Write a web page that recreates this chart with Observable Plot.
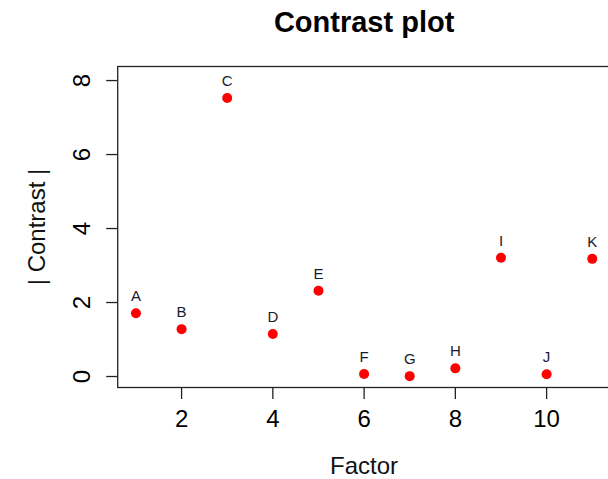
<!DOCTYPE html>
<html>
<head>
<meta charset="utf-8">
<script src="https://cdn.jsdelivr.net/npm/d3@7"></script>
<script src="https://cdn.jsdelivr.net/npm/@observablehq/plot@0.6"></script>
<style>
  html, body { margin: 0; padding: 0; background: #fff; overflow: hidden; }
</style>
</head>
<body>
<div id="chart"></div>
<script>
const factors = ["A", "B", "C", "D", "E", "F", "G", "H", "I", "J", "K"];
const factorIndex = [1, 2, 3, 4, 5, 6, 7, 8, 9, 10, 11];
const contrast = [1.71, 1.28, 7.53, 1.15, 2.32, 0.07, 0.01, 0.22, 3.21, 0.06, 3.18];
const xTicks = [2, 4, 6, 8, 10];
const yTicks = [0, 2, 4, 6, 8];
const titleText = "Contrast plot";
const xLabel = "Factor";
const yLabel = "| Contrast |";

const data = factors.map((f, i) => ({ name: f, x: factorIndex[i], y: contrast[i] }));

const font = "Liberation Sans, Arial, Helvetica, sans-serif";

const chart = Plot.plot({
  width: 608,
  height: 479,
  marginLeft: 117.2,
  marginRight: -2,
  marginTop: 66,
  marginBottom: 92,
  style: { fontFamily: font, background: "#fff", color: "#000" },
  x: { domain: [0.6, 11.4] },
  y: { domain: [-0.297, 8.38] },
  marks: [
    Plot.frame({ stroke: "#222", strokeWidth: 1.3 }),
    Plot.axisX({ ticks: xTicks, tickSize: 12, tickPadding: 10, fontSize: 24, label: null, stroke: "#222", strokeWidth: 1.3 }),
    Plot.axisY({ ticks: yTicks, tickSize: 11, tickFormat: () => "", label: null, stroke: "#222", strokeWidth: 1.3 }),
    Plot.text(yTicks, { y: d => d, text: d => String(d), frameAnchor: "left", dx: -35.5, rotate: -90, textAnchor: "middle", lineAnchor: "middle", fontSize: 24, fill: "#000" }),
    Plot.dot(data, { x: "x", y: "y", r: 5, fill: "#ff0000", stroke: "none" }),
    Plot.text(data, { x: "x", y: "y", text: "name", dy: -12, lineAnchor: "bottom", fontSize: 15, fill: "#1a1a2e" }),
    Plot.text([xLabel], { text: d => d, frameAnchor: "bottom", dy: 86, lineAnchor: "bottom", fontSize: 24, fill: "#111" }),
    Plot.text([yLabel], { text: d => d, frameAnchor: "left", dx: -80, rotate: -90, textAnchor: "middle", lineAnchor: "middle", fontSize: 24, fill: "#111" }),
    Plot.text([titleText], { text: d => d, frameAnchor: "top", dy: -35, lineAnchor: "bottom", fontSize: 29, fontWeight: "bold", fill: "#000" })
  ]
});

document.getElementById("chart").appendChild(chart);
</script>
</body>
</html>
